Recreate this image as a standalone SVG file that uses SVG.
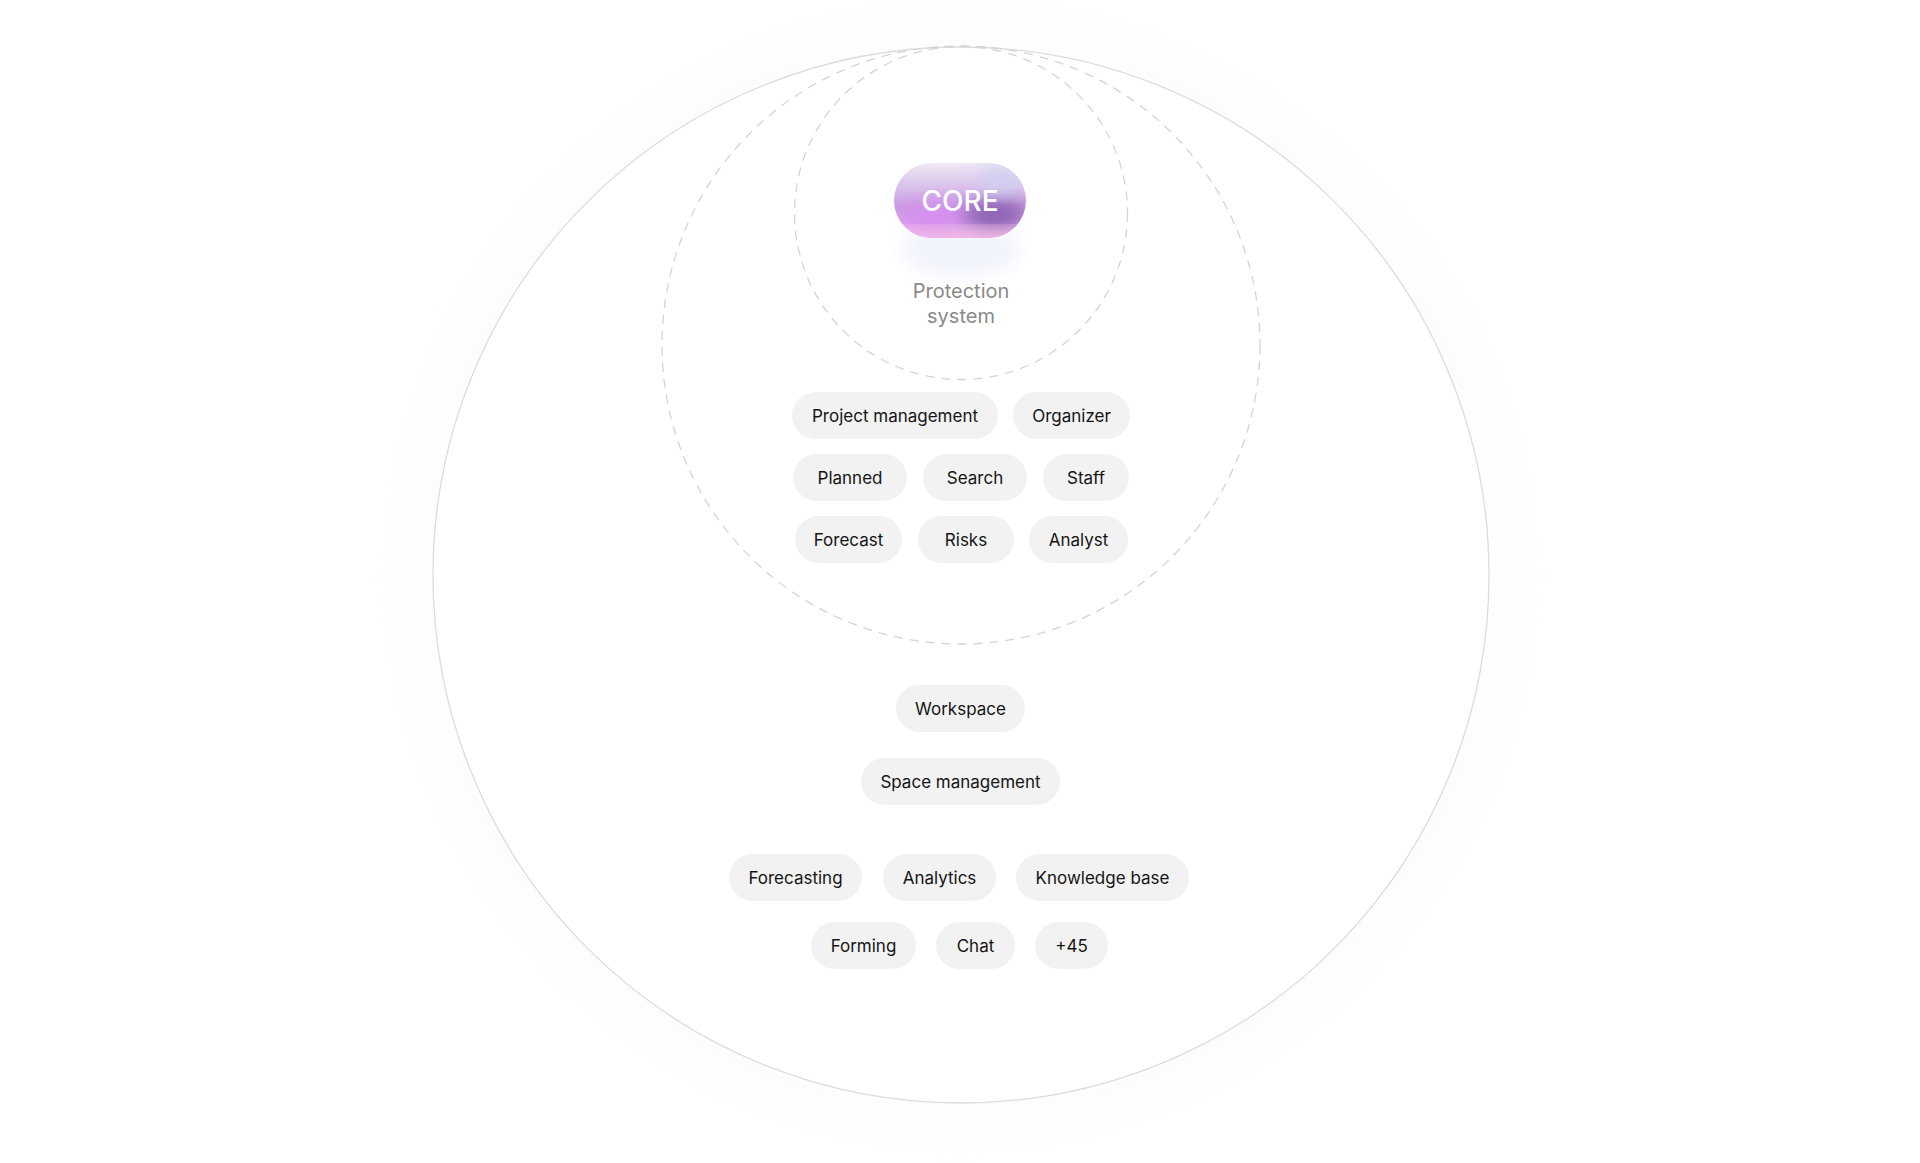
<svg xmlns="http://www.w3.org/2000/svg" width="1920" height="1163" viewBox="0 0 1920 1163">
<style>
.pill rect{fill:#f2f2f2}
.pill text{font-family:Inter,"Liberation Sans",sans-serif;font-size:17px;fill:#151515;text-anchor:middle;dominant-baseline:central}
.dash{fill:none;stroke:#d4d4d8;stroke-width:1.3;stroke-dasharray:9 7}
</style>
<defs>
<filter id="glow" x="-20%" y="-20%" width="140%" height="140%"><feGaussianBlur stdDeviation="25"/></filter>
<filter id="blur" x="-30%" y="-30%" width="160%" height="160%"><feGaussianBlur stdDeviation="9"/></filter>
<clipPath id="coreClip"><rect x="894" y="163" width="132" height="75" rx="37.5"/></clipPath>
<linearGradient id="coreBg" x1="0" y1="0" x2="0" y2="1"><stop offset="0" stop-color="#efeaf6"/><stop offset="0.6" stop-color="#c79be0"/><stop offset="1" stop-color="#f6bde6"/></linearGradient>
</defs>
<rect width="1920" height="1163" fill="#fff"/>
<g id="rings">
<circle cx="961" cy="575" r="535" fill="none" stroke="#eef0f6" stroke-width="30" filter="url(#glow)" opacity="0.3"/>
<circle cx="961" cy="575" r="528" fill="#fff" stroke="#dcdce0" stroke-width="1.3"/>
<circle class="dash" cx="961" cy="345" r="299"/>
<circle class="dash" cx="961" cy="213" r="166.5"/>
</g>
<g id="core">
<ellipse cx="961" cy="250" rx="60" ry="25" fill="#e8ecfb" filter="url(#blur)" opacity="0.6"/>
<g clip-path="url(#coreClip)">
<rect x="894" y="163" width="132" height="75" fill="url(#coreBg)"/>
<ellipse cx="935" cy="218" rx="40" ry="16" fill="#d58ff0" filter="url(#blur)"/>
<ellipse cx="995" cy="215" rx="32" ry="16" fill="#8c62b4" filter="url(#blur)"/>
<ellipse cx="1000" cy="180" rx="22" ry="14" fill="#cfd0f0" filter="url(#blur)"/>
<rect x="894" y="228" width="132" height="12" fill="#f7c3ea" filter="url(#blur)" opacity="0.8"/>
</g>
<text x="960" y="201" font-family="Inter,'Liberation Sans',sans-serif" font-size="28" font-weight="500" fill="#fff" text-anchor="middle" dominant-baseline="central">CORE</text>
<text x="961" y="291" font-family="Inter,'Liberation Sans',sans-serif" font-size="20" fill="#8a8a8a" text-anchor="middle" dominant-baseline="central">Protection</text>
<text x="961" y="316" font-family="Inter,'Liberation Sans',sans-serif" font-size="20" fill="#8a8a8a" text-anchor="middle" dominant-baseline="central">system</text>
</g>
<g id="n-project" class="pill"><rect x="792" y="392" width="206" height="47" rx="23.5"/><text x="895" y="415.5">Project management</text></g>
<g id="n-organizer" class="pill"><rect x="1013" y="392" width="117" height="47" rx="23.5"/><text x="1071.5" y="415.5">Organizer</text></g>
<g id="n-planned" class="pill"><rect x="793" y="454" width="114" height="47" rx="23.5"/><text x="850" y="477.5">Planned</text></g>
<g id="n-search" class="pill"><rect x="923" y="454" width="104" height="47" rx="23.5"/><text x="975" y="477.5">Search</text></g>
<g id="n-staff" class="pill"><rect x="1043" y="454" width="86" height="47" rx="23.5"/><text x="1086" y="477.5">Staff</text></g>
<g id="n-forecast" class="pill"><rect x="795" y="516" width="107" height="47" rx="23.5"/><text x="848.5" y="539.5">Forecast</text></g>
<g id="n-risks" class="pill"><rect x="918" y="516" width="96" height="47" rx="23.5"/><text x="966" y="539.5">Risks</text></g>
<g id="n-analyst" class="pill"><rect x="1029" y="516" width="99" height="47" rx="23.5"/><text x="1078.5" y="539.5">Analyst</text></g>
<g id="n-workspace" class="pill"><rect x="896" y="685" width="129" height="47" rx="23.5"/><text x="960.5" y="708.5">Workspace</text></g>
<g id="n-space" class="pill"><rect x="861" y="758" width="199" height="47" rx="23.5"/><text x="960.5" y="781.5">Space management</text></g>
<g id="n-forecasting" class="pill"><rect x="729" y="854" width="133" height="47" rx="23.5"/><text x="795.5" y="877.5">Forecasting</text></g>
<g id="n-analytics" class="pill"><rect x="883" y="854" width="113" height="47" rx="23.5"/><text x="939.5" y="877.5">Analytics</text></g>
<g id="n-kb" class="pill"><rect x="1016" y="854" width="173" height="47" rx="23.5"/><text x="1102.5" y="877.5">Knowledge base</text></g>
<g id="n-forming" class="pill"><rect x="811" y="922" width="105" height="47" rx="23.5"/><text x="863.5" y="945.5">Forming</text></g>
<g id="n-chat" class="pill"><rect x="936" y="922" width="79" height="47" rx="23.5"/><text x="975.5" y="945.5">Chat</text></g>
<g id="n-more" class="pill"><rect x="1035" y="922" width="73" height="47" rx="23.5"/><text x="1071.5" y="945.5">+45</text></g>
<g id="connectors"/>
</svg>
